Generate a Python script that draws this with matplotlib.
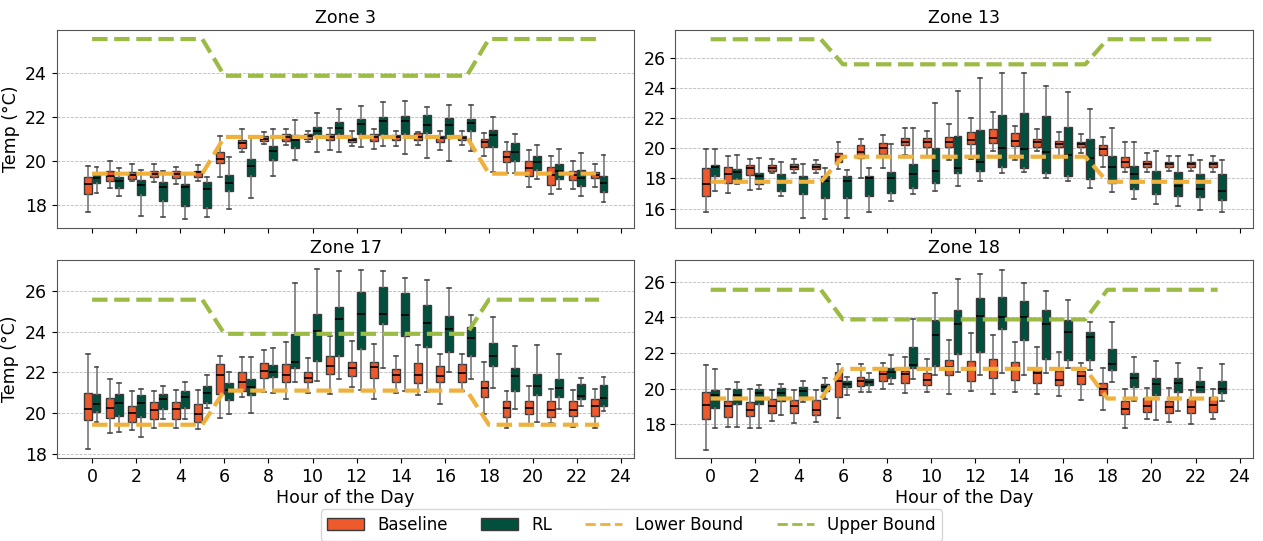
import numpy as np
import matplotlib.pyplot as plt
from matplotlib.patches import Patch
from matplotlib.lines import Line2D
from matplotlib.ticker import MultipleLocator

hours = np.arange(24)

# box stats per hour: (whisker low, q1, median, q3, whisker high)
z3_baseline = [
    (17.68, 18.53, 18.97, 19.27, 19.77), (18.79, 19.12, 19.32, 19.55, 20.00),
    (19.12, 19.21, 19.36, 19.52, 19.88), (19.06, 19.29, 19.42, 19.55, 19.88),
    (18.97, 19.24, 19.42, 19.55, 19.73), (19.09, 19.27, 19.50, 19.58, 19.85),
    (19.27, 19.91, 20.12, 20.42, 21.14), (20.41, 20.61, 20.83, 20.97, 21.47),
    (20.79, 20.91, 21.03, 21.14, 21.33), (20.76, 20.91, 21.10, 21.26, 21.47),
    (20.88, 21.02, 21.14, 21.24, 21.36), (20.53, 20.95, 21.12, 21.26, 21.50),
    (20.71, 20.88, 20.98, 21.06, 21.36), (20.56, 20.94, 21.09, 21.24, 21.48),
    (20.71, 20.95, 21.09, 21.21, 21.39), (20.73, 20.95, 21.12, 21.29, 21.33),
    (20.53, 20.88, 21.05, 21.17, 21.39), (20.73, 20.95, 21.06, 21.17, 21.39),
    (20.26, 20.65, 20.86, 21.02, 21.29), (19.47, 19.95, 20.21, 20.45, 20.88),
    (18.82, 19.32, 19.70, 20.03, 20.50), (18.52, 18.94, 19.39, 19.74, 20.26),
    (18.74, 19.17, 19.36, 19.55, 20.03), (18.82, 19.24, 19.36, 19.50, 19.88),
]
z3_rl = [
    (18.55, 19.02, 19.24, 19.42, 19.74), (18.44, 18.79, 19.09, 19.27, 19.70),
    (17.53, 18.48, 18.94, 19.15, 19.60), (17.45, 18.18, 18.85, 19.06, 19.55),
    (17.38, 17.98, 18.83, 18.98, 19.42), (17.45, 17.90, 18.76, 19.06, 19.27),
    (17.85, 18.67, 19.03, 19.39, 20.18), (18.33, 19.32, 19.77, 20.10, 21.06),
    (19.35, 20.06, 20.48, 20.68, 21.48), (20.08, 20.61, 20.98, 21.21, 21.86),
    (20.42, 21.21, 21.36, 21.55, 22.20), (20.44, 21.24, 21.52, 21.79, 22.38),
    (20.65, 21.24, 21.70, 21.92, 22.52), (20.68, 21.21, 21.82, 22.03, 22.70),
    (20.33, 21.24, 21.82, 22.06, 22.73), (20.15, 21.29, 21.64, 22.11, 22.45),
    (20.00, 21.06, 21.67, 21.98, 22.58), (20.48, 21.36, 21.76, 21.92, 22.55),
    (19.50, 20.64, 21.18, 21.44, 22.02), (19.47, 20.00, 20.44, 20.83, 21.24),
    (19.21, 19.59, 19.95, 20.26, 20.76), (18.74, 19.20, 19.55, 19.88, 20.58),
    (18.44, 18.86, 19.24, 19.59, 20.38), (18.14, 18.59, 19.02, 19.32, 20.30),
]
z13_baseline = [
    (15.75, 16.81, 17.64, 18.72, 19.96), (17.03, 17.69, 18.28, 18.79, 19.49),
    (17.25, 18.24, 18.68, 18.90, 19.27), (18.35, 18.52, 18.72, 18.90, 19.27),
    (18.35, 18.63, 18.79, 18.94, 19.27), (18.39, 18.63, 18.79, 18.94, 19.23),
    (18.63, 19.07, 19.45, 19.67, 20.44), (18.02, 19.34, 19.78, 20.22, 20.59),
    (18.68, 19.63, 20.04, 20.33, 20.88), (19.56, 20.22, 20.44, 20.66, 21.32),
    (19.52, 20.11, 20.44, 20.70, 21.17), (19.19, 20.11, 20.40, 20.77, 21.61),
    (19.30, 20.26, 20.55, 21.06, 21.98), (19.82, 20.33, 20.66, 21.26, 22.42),
    (19.23, 20.18, 20.48, 20.99, 21.48), (19.85, 20.11, 20.40, 20.62, 21.26),
    (19.52, 20.07, 20.29, 20.48, 21.06), (19.67, 20.07, 20.29, 20.44, 20.95),
    (18.79, 19.56, 19.96, 20.22, 20.77), (18.46, 18.79, 19.12, 19.41, 20.44),
    (18.46, 18.74, 18.96, 19.16, 19.67), (18.52, 18.79, 18.96, 19.12, 19.52),
    (18.52, 18.74, 18.94, 19.12, 19.56), (18.46, 18.74, 18.94, 19.12, 19.49),
]
z13_rl = [
    (17.20, 18.19, 18.79, 18.90, 19.96), (17.62, 17.97, 18.46, 18.61, 19.56),
    (17.29, 17.62, 18.13, 18.39, 19.34), (16.81, 17.20, 17.84, 18.30, 19.12),
    (15.37, 16.98, 17.73, 18.19, 18.94), (15.31, 16.70, 17.80, 18.13, 18.68),
    (15.37, 16.70, 17.84, 18.13, 18.57), (15.75, 16.81, 18.02, 18.17, 18.68),
    (16.48, 17.03, 18.02, 18.46, 20.29), (16.96, 17.36, 18.30, 18.96, 21.32),
    (17.20, 17.73, 18.52, 20.00, 23.02), (17.53, 18.35, 18.72, 20.84, 23.81),
    (17.84, 18.52, 19.12, 21.19, 24.63), (18.35, 18.79, 20.00, 22.20, 25.00),
    (18.46, 18.68, 19.93, 22.36, 25.00), (18.06, 18.39, 19.74, 22.16, 24.14),
    (17.80, 18.13, 19.56, 21.43, 23.70), (17.40, 17.97, 19.38, 20.59, 22.58),
    (17.09, 17.73, 18.74, 19.52, 21.37), (16.63, 17.29, 18.28, 18.85, 20.44),
    (16.30, 16.96, 17.80, 18.52, 19.85), (16.15, 16.87, 17.51, 18.46, 19.49),
    (15.93, 16.74, 17.31, 18.30, 19.23), (15.80, 16.60, 17.20, 18.30, 19.20),
]
z17_baseline = [
    (18.24, 19.67, 20.21, 20.98, 22.89), (19.02, 19.79, 20.24, 20.73, 21.68),
    (19.18, 19.56, 20.00, 20.38, 21.11), (19.30, 19.72, 20.16, 20.57, 21.09),
    (19.27, 19.72, 20.21, 20.54, 21.14), (19.23, 19.59, 19.95, 20.44, 21.14),
    (19.76, 20.95, 21.88, 22.40, 22.78), (20.82, 21.09, 21.52, 22.04, 22.74),
    (21.03, 21.71, 22.07, 22.48, 23.10), (20.70, 21.52, 21.88, 22.40, 23.51),
    (21.01, 21.52, 21.75, 22.04, 22.73), (20.93, 21.91, 22.32, 22.78, 23.79),
    (21.27, 21.84, 22.20, 22.53, 23.54), (20.69, 21.71, 22.25, 22.50, 23.38),
    (21.01, 21.55, 21.88, 22.17, 22.78), (20.90, 21.50, 21.88, 22.45, 23.35),
    (20.46, 21.55, 21.83, 22.29, 22.91), (21.09, 21.52, 21.96, 22.40, 22.89),
    (19.97, 20.78, 21.22, 21.58, 22.50), (19.27, 19.84, 20.24, 20.60, 21.09),
    (19.46, 19.95, 20.24, 20.60, 21.34), (19.51, 19.84, 20.16, 20.60, 21.18),
    (19.31, 19.87, 20.16, 20.60, 21.14), (19.27, 19.87, 20.38, 20.70, 21.18),
]
z17_rl = [
    (19.59, 20.05, 20.46, 20.93, 22.25), (19.07, 19.87, 20.49, 20.93, 21.50),
    (18.82, 19.80, 20.49, 20.90, 21.18), (19.71, 20.20, 20.69, 20.93, 21.34),
    (19.71, 20.24, 20.78, 21.09, 21.52), (20.24, 20.52, 21.01, 21.34, 21.88),
    (19.97, 20.65, 21.14, 21.50, 22.04), (20.03, 20.90, 21.31, 21.67, 22.74),
    (21.01, 21.76, 22.04, 22.37, 23.18), (21.55, 22.20, 22.50, 23.89, 26.37),
    (21.58, 22.56, 24.05, 24.87, 27.05), (21.68, 22.81, 24.60, 25.18, 26.97),
    (21.14, 23.13, 24.87, 25.96, 27.02), (22.20, 24.36, 24.85, 26.17, 26.94),
    (21.11, 23.76, 24.82, 25.88, 26.61), (21.03, 23.22, 24.41, 25.31, 26.50),
    (22.01, 23.02, 24.11, 24.77, 26.12), (21.68, 22.78, 23.67, 24.21, 24.82),
    (21.26, 22.33, 22.78, 23.43, 24.70), (20.20, 21.11, 21.84, 22.20, 23.30),
    (19.56, 20.90, 21.34, 21.91, 23.35), (20.20, 20.82, 21.26, 21.67, 22.91),
    (20.36, 20.70, 20.87, 21.44, 21.75), (20.11, 20.38, 20.73, 21.39, 21.80),
]
z18_baseline = [
    (16.56, 18.31, 19.10, 19.81, 21.35), (17.84, 18.40, 19.00, 19.31, 20.00),
    (17.78, 18.44, 18.78, 19.25, 20.00), (18.18, 18.63, 19.02, 19.44, 19.91),
    (18.08, 18.63, 19.02, 19.38, 19.91), (18.12, 18.54, 18.82, 19.34, 19.91),
    (18.37, 19.53, 20.41, 20.94, 21.41), (19.81, 20.13, 20.41, 20.66, 21.41),
    (20.00, 20.43, 20.81, 21.03, 21.46), (19.77, 20.34, 20.81, 20.98, 21.75),
    (19.81, 20.19, 20.51, 20.90, 21.65), (19.72, 20.79, 21.22, 21.60, 22.76),
    (19.85, 20.43, 21.07, 21.54, 23.10), (19.72, 20.62, 21.16, 21.69, 23.04),
    (19.81, 20.47, 21.03, 21.50, 22.63), (19.72, 20.32, 20.85, 21.18, 22.35),
    (19.57, 20.19, 20.51, 20.98, 22.03), (19.38, 20.23, 20.69, 20.98, 21.45),
    (18.78, 19.66, 20.00, 20.34, 21.18), (17.78, 18.55, 18.87, 19.31, 20.00),
    (18.27, 18.69, 19.00, 19.47, 20.04), (18.12, 18.63, 18.97, 19.31, 20.04),
    (18.03, 18.63, 18.97, 19.44, 19.94), (18.31, 18.69, 19.10, 19.53, 20.00),
]
z18_rl = [
    (17.80, 18.91, 19.62, 19.94, 21.09), (17.84, 19.12, 19.66, 19.96, 20.38),
    (17.80, 19.12, 19.76, 20.00, 20.19), (18.54, 19.31, 19.76, 20.04, 20.28),
    (19.25, 19.44, 19.85, 20.09, 20.43), (19.40, 19.87, 20.09, 20.24, 20.60),
    (19.62, 20.06, 20.28, 20.43, 20.66), (19.81, 20.19, 20.38, 20.53, 20.85),
    (20.23, 20.62, 20.94, 21.18, 21.88), (20.56, 21.13, 21.31, 22.35, 23.94),
    (20.75, 21.28, 23.04, 23.85, 25.35), (20.94, 21.92, 23.62, 24.41, 26.14),
    (20.75, 22.07, 24.09, 25.07, 26.44), (20.90, 23.34, 24.00, 25.13, 26.70),
    (20.75, 22.72, 24.04, 24.94, 25.95), (20.90, 21.69, 23.66, 24.41, 25.50),
    (21.13, 21.60, 23.19, 23.85, 25.01), (21.03, 21.63, 22.91, 23.19, 23.76),
    (20.38, 21.03, 21.41, 22.25, 23.72), (19.29, 20.09, 20.60, 20.90, 21.78),
    (18.22, 19.62, 20.23, 20.62, 21.56), (18.72, 19.81, 20.32, 20.62, 21.46),
    (19.81, 19.81, 20.06, 20.43, 21.16), (19.30, 19.75, 20.00, 20.45, 21.37),
]

# comfort bounds (deg C)
lower_a = [19.44] * 6 + [21.11] * 12 + [19.44] * 6
upper_a = [25.56] * 6 + [23.89] * 12 + [25.56] * 6
lower_b = [17.78] * 6 + [19.44] * 12 + [17.78] * 6
upper_b = [27.22] * 6 + [25.56] * 12 + [27.22] * 6

zones = ["Zone 3", "Zone 13", "Zone 17", "Zone 18"]
baseline_data = [z3_baseline, z13_baseline, z17_baseline, z18_baseline]
rl_data = [z3_rl, z13_rl, z17_rl, z18_rl]
lower_data = [lower_a, lower_b, lower_a, lower_a]
upper_data = [upper_a, upper_b, upper_a, upper_a]
ylims = [(16.97, 25.97), (14.72, 27.83), (17.8, 27.49), (16.08, 27.22)]

c_base = '#EE5A2C'
c_rl = '#00503D'
c_low = '#EFB03C'
c_up = '#9BBB44'


def to_stats(rows):
    return [dict(whislo=r[0], q1=r[1], med=r[2], q3=r[3], whishi=r[4]) for r in rows]


fig, axes = plt.subplots(2, 2, figsize=(12.63, 5.41), dpi=100, sharex=True)
plt.subplots_adjust(left=0.045, right=0.992, bottom=0.153, top=0.9445,
                    wspace=0.071, hspace=0.163)

for i, ax in enumerate(axes.flat):
    for data, col, off in [(baseline_data[i], c_base, -0.2), (rl_data[i], c_rl, 0.2)]:
        ax.bxp(to_stats(data), positions=hours + off, widths=0.36,
               patch_artist=True, showfliers=False,
               boxprops=dict(facecolor=col, edgecolor='#3a3a3a', linewidth=1),
               medianprops=dict(color='black', linewidth=1.2),
               whiskerprops=dict(color='#777777', linewidth=1.2),
               capprops=dict(color='#4a4a4a', linewidth=1.2),
               manage_ticks=False)
    ax.plot(hours, lower_data[i], color=c_low, linestyle='--', linewidth=3, zorder=5)
    ax.plot(hours, upper_data[i], color=c_up, linestyle='--', linewidth=3, zorder=5)
    ax.set_title(zones[i], fontsize=12.5, pad=5)
    ax.set_xlim(-1.6, 24.6)
    ax.set_ylim(ylims[i])
    ax.set_xticks(range(0, 25, 2))
    ax.yaxis.set_major_locator(MultipleLocator(2))
    ax.grid(axis='y', linestyle='--', linewidth=0.6, color='#bbbbbb')
    ax.set_axisbelow(True)
    ax.tick_params(labelsize=12.5)
    for s in ax.spines.values():
        s.set_color('#555555')

for ax in axes[:, 0]:
    ax.set_ylabel('Temp (°C)', fontsize=12.5, labelpad=4)
for ax in axes[1, :]:
    ax.set_xlabel('Hour of the Day', fontsize=12.5, labelpad=2)

handles = [
    Patch(facecolor=c_base, edgecolor='#3a3a3a', label='Baseline'),
    Patch(facecolor=c_rl, edgecolor='#3a3a3a', label='RL'),
    Line2D([0], [0], color=c_low, linestyle='--', linewidth=2, label='Lower Bound'),
    Line2D([0], [0], color=c_up, linestyle='--', linewidth=2, label='Upper Bound'),
]
fig.legend(handles=handles, loc='lower center', ncol=4, fontsize=12,
           bbox_to_anchor=(0.5, -0.015), handlelength=2.2, columnspacing=2.0)

plt.savefig('out.png', dpi=100)
